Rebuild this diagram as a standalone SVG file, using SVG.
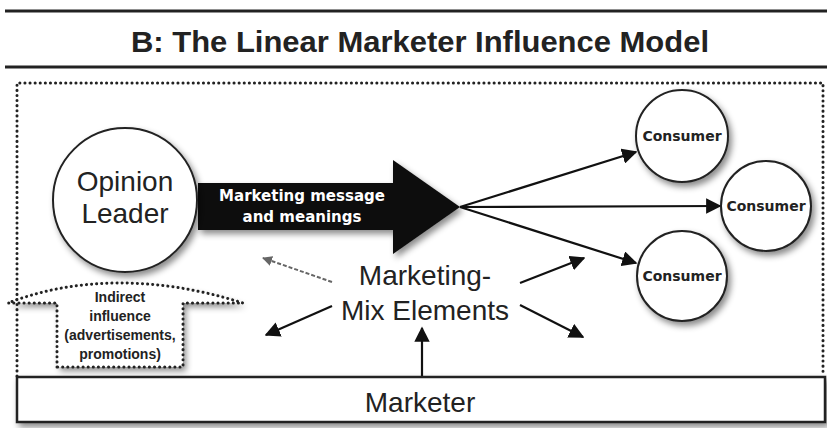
<svg xmlns="http://www.w3.org/2000/svg" width="827" height="428" viewBox="0 0 827 428">
<defs>
<style>
.t{font-family:"Liberation Sans",Arial,sans-serif;fill:#222}
.node{fill:#fff;stroke:#222;stroke-width:2}
.conn{stroke:#111;stroke-width:2.2;fill:none}
.dot{fill:none;stroke:#222;stroke-width:3;stroke-dasharray:0.1 5;stroke-linecap:round}
.sm{font-family:"DejaVu Sans","Liberation Sans",sans-serif;fill:#222;font-weight:bold}
.ind{font-family:"Liberation Sans",Arial,sans-serif;fill:#222;font-weight:bold;font-size:14px}
</style>
<filter id="sh" x="-20%" y="-20%" width="150%" height="150%">
<feDropShadow dx="3" dy="4" stdDeviation="3" flood-color="#000" flood-opacity="0.45"/>
</filter>
<marker id="ahb" viewBox="0 0 10 10" refX="9" refY="5" markerWidth="7" markerHeight="7" orient="auto">
<path d="M0,0 L10,5 L0,10 z" fill="#111"/>
</marker>
<marker id="ahg" viewBox="0 0 10 10" refX="9" refY="5" markerWidth="5" markerHeight="5" orient="auto">
<path d="M0,0 L10,5 L0,10 z" fill="#666"/>
</marker>
</defs>
<rect width="827" height="428" fill="#fff"/>
<g id="header">
<line x1="5" y1="11" x2="827" y2="11" stroke="#222" stroke-width="3"/>
<text class="t" x="420" y="52" font-size="30" font-weight="bold" text-anchor="middle" textLength="578" lengthAdjust="spacingAndGlyphs">B: The Linear Marketer Influence Model</text>
<line x1="5" y1="67" x2="827" y2="67" stroke="#222" stroke-width="3"/>
</g>
<g id="frame">
<path class="dot" d="M17,376 V83 H823 V376"/>
</g>
<g id="connectors">
<line class="conn" x1="460" y1="207" x2="636" y2="152" marker-end="url(#ahb)"/>
<line class="conn" x1="460" y1="207" x2="720" y2="206" marker-end="url(#ahb)"/>
<line class="conn" x1="460" y1="207" x2="636" y2="263" marker-end="url(#ahb)"/>
<line x1="332" y1="282" x2="263" y2="258" stroke="#666" stroke-width="2" stroke-dasharray="4 2" marker-end="url(#ahg)"/>
<line class="conn" x1="332" y1="306" x2="266" y2="335" marker-end="url(#ahb)"/>
<line class="conn" x1="520" y1="283" x2="584" y2="258" marker-end="url(#ahb)"/>
<line class="conn" x1="520" y1="305" x2="583" y2="337" marker-end="url(#ahb)"/>
<line class="conn" x1="422" y1="376" x2="422" y2="328" marker-end="url(#ahb)"/>
</g>
<g id="message-arrow">
<polygon points="198,183 393,183 393,160 460,207 393,254 393,230 198,230" fill="#111" filter="url(#sh)"/>
<text class="sm" x="302" y="201" font-size="15" style="fill:#fff" text-anchor="middle">Marketing message</text>
<text class="sm" x="302" y="222" font-size="15" style="fill:#fff" text-anchor="middle">and meanings</text>
</g>
<g id="opinion-leader">
<circle class="node" cx="125" cy="200" r="72" filter="url(#sh)"/>
<text class="t" x="125" y="191" font-size="28" text-anchor="middle">Opinion</text>
<text class="t" x="125" y="223" font-size="28" text-anchor="middle">Leader</text>
</g>
<g id="consumer-1">
<circle class="node" cx="682" cy="136" r="46" filter="url(#sh)"/>
<text class="sm" x="682" y="141" font-size="14" text-anchor="middle">Consumer</text>
</g>
<g id="consumer-2">
<circle class="node" cx="766" cy="206" r="45" filter="url(#sh)"/>
<text class="sm" x="766" y="211" font-size="14" text-anchor="middle">Consumer</text>
</g>
<g id="consumer-3">
<circle class="node" cx="682" cy="276" r="45" filter="url(#sh)"/>
<text class="sm" x="682" y="281" font-size="14" text-anchor="middle">Consumer</text>
</g>
<g id="marketing-mix">
<text class="t" x="425" y="285" font-size="28" text-anchor="middle">Marketing-</text>
<text class="t" x="425" y="320" font-size="28" text-anchor="middle">Mix Elements</text>
</g>
<g id="indirect-influence">
<path d="M57,367 V303 H8 Q60,283 120,283 Q180,283 243,303 H183 V367 Z" fill="#fff" filter="url(#sh)"/>
<path class="dot" d="M57,367 V303 H8 Q60,283 120,283 Q180,283 243,303 H183 V367 Z" stroke-width="2.5" stroke-dasharray="0.1 4"/>
<text class="ind" x="120" y="302" text-anchor="middle">Indirect</text>
<text class="ind" x="120" y="321" text-anchor="middle">influence</text>
<text class="ind" x="120" y="340" text-anchor="middle">(advertisements,</text>
<text class="ind" x="120" y="359" text-anchor="middle">promotions)</text>
</g>
<g id="marketer">
<rect x="17" y="377" width="808" height="45" fill="#fff" stroke="#222" stroke-width="2.5" filter="url(#sh)"/>
<text class="t" x="420" y="412" font-size="28" text-anchor="middle">Marketer</text>
</g>
</svg>
